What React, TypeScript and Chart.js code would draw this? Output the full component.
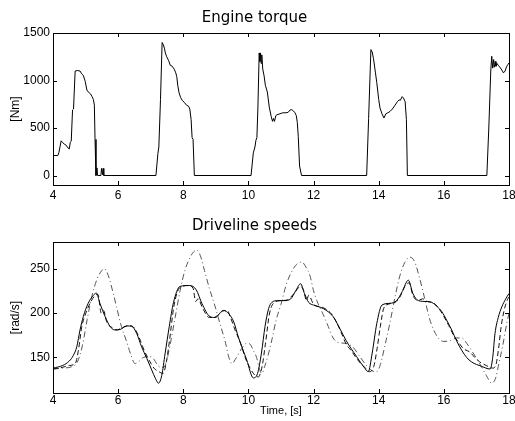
import React, { useEffect, useRef } from "react";
import { Chart, registerables } from "chart.js";

Chart.register(...registerables);

// ---------- data ----------
const X_TICKS = [4, 6, 8, 10, 12, 14, 16, 18];
const TORQUE_TICKS = [0, 500, 1000, 1500];
const SPEED_TICKS = [150, 200, 250];

const torqueT = [
  4.0, 4.15, 4.18, 4.25, 4.3, 4.35, 4.4, 4.46, 4.5, 4.53, 4.56, 4.6, 4.63, 4.68, 4.75, 4.83, 4.88, 4.93, 4.99, 5.04,
  5.08, 5.15, 5.2, 5.24, 5.27, 5.29, 5.32, 5.35, 5.37, 5.47, 5.49, 5.52, 5.54, 5.56, 7.16, 7.22, 7.25, 7.3, 7.35, 7.39,
  7.42, 7.45, 7.49, 7.55, 7.6, 7.66, 7.72, 7.77, 7.8, 7.83, 7.87, 7.92, 7.97, 8.03, 8.1, 8.16, 8.2, 8.24, 8.27, 8.3,
  8.34, 10.08, 10.15, 10.2, 10.23, 10.26, 10.29, 10.33, 10.35, 10.37, 10.39, 10.41, 10.44, 10.48, 10.52, 10.58, 10.64,
  10.7, 10.74, 10.77, 10.8, 10.84, 10.88, 10.97, 11.05, 11.15, 11.22, 11.28, 11.33, 11.38, 11.43, 11.47, 11.5, 11.53,
  11.57, 11.63, 13.63, 13.69, 13.76, 13.8, 13.84, 13.9, 13.94, 14.0, 14.04, 14.1, 14.16, 14.22, 14.28, 14.35, 14.42,
  14.5, 14.58, 14.63, 14.66, 14.72, 14.76, 14.81, 14.85, 14.88, 17.32, 17.38, 17.44, 17.47, 17.5, 17.53, 17.55, 17.58,
  17.6, 17.63, 17.67, 17.72, 17.78, 17.83, 17.88, 17.93, 17.97, 18.0,
];
const torqueV = [
  210, 210, 240, 365, 345, 330, 320, 290, 280, 350, 360, 690, 700, 1100, 1105, 1100, 1070, 1055, 990, 900,
  880, 860, 830, 800, 740, 380, 0, 80, 0, 0, 75, 10, 75, 0, 0, 230, 300, 800, 1400, 1375,
  1340, 1290, 1250, 1210, 1160, 1150, 1120, 1080, 1040, 950, 870, 820, 790, 770, 740, 730, 700, 590, 400, 380,
  0, 0, 238, 300, 370, 400, 700, 1290, 1200, 1290, 1180, 1270, 1120, 1050, 950, 880, 720,
  620, 570, 600, 570, 630, 640, 650, 660, 660, 665, 690, 693, 680, 660, 630, 560, 413,
  100, 0, 0, 600, 1325, 1300, 1230, 1080, 980, 800, 710, 650, 605, 650, 660, 675, 700,
  740, 780, 797, 790, 830, 815, 780, 590, 0, 0, 500, 1100, 1255, 1130, 1220, 1140, 1200,
  1150, 1180, 1160, 1140, 1110, 1080, 1100, 1150, 1170, 1185,
];

const solidT = [
  4.0, 4.3, 4.5, 4.62, 4.73, 4.83, 4.93, 5.08, 5.24, 5.33, 5.44, 5.6, 5.75, 5.9, 6.06, 6.26, 6.42, 6.57, 6.72, 6.88,
  7.03, 7.15, 7.24, 7.34, 7.44, 7.57, 7.7, 7.9, 8.2, 8.4, 8.57, 8.82, 8.98, 9.23, 9.4, 9.55, 9.69, 9.95, 10.15, 10.28,
  10.4, 10.51, 10.62, 10.72, 10.9, 11.1, 11.3, 11.45, 11.6, 11.72, 11.85, 12.0, 12.3, 12.6, 12.8, 13.0, 13.32, 13.55,
  13.68, 13.8, 13.94, 14.1, 14.35, 14.55, 14.72, 14.91, 15.05, 15.22, 15.45, 15.63, 15.8, 15.93, 16.1, 16.24, 16.4,
  16.55, 16.7, 16.85, 17.16, 17.42, 17.5, 17.57, 17.67, 17.78, 17.9, 18.0,
];
const solidV = [
  138, 141, 146, 152, 162, 181, 196, 211, 220, 222.5, 211, 196, 185, 181, 181.5, 185.5, 185, 177, 162, 149,
  136, 126, 121, 130, 154, 185, 212, 230, 231, 226, 211, 196, 195, 203, 199, 190, 173, 147, 127, 132,
  155, 185, 205, 212, 214, 214, 216, 225, 233, 222, 212, 209, 205, 196, 183, 169, 151, 139,
  134, 155, 188, 209, 211, 214, 224, 237, 222, 214, 213, 212, 207, 202, 191, 181, 168,
  158, 150, 145, 140, 137, 150, 177, 195, 207, 216, 222,
];

const dashedT = [
  4.0, 4.3, 4.5, 4.68, 4.78, 4.88, 5.0, 5.15, 5.3, 5.38, 5.48, 5.55, 5.65, 5.8, 5.95, 6.15, 6.35, 6.5, 6.65, 6.8,
  6.95, 7.1, 7.25, 7.38, 7.48, 7.58, 7.7, 7.82, 7.95, 8.15, 8.3, 8.38, 8.45, 8.6, 8.8, 9.0, 9.2, 9.35, 9.45, 9.6,
  9.75, 9.9, 10.05, 10.2, 10.3, 10.42, 10.52, 10.65, 10.8, 11.0, 11.2, 11.4, 11.6, 11.7, 11.78, 11.85, 12.0, 12.3,
  12.55, 12.7, 12.85, 13.0, 13.15, 13.3, 13.45, 13.6, 13.72, 13.85, 13.95, 14.05, 14.15, 14.3, 14.5, 14.65, 14.8,
  14.93, 15.05, 15.2, 15.35, 15.5, 15.7, 15.85, 16.0, 16.15, 16.3, 16.45, 16.6, 16.8, 16.95, 17.1, 17.3, 17.5, 17.6,
  17.68, 17.76, 17.85, 17.95, 18.0,
];
const dashedV = [
  137, 139, 141, 143, 158, 184, 199, 212, 220, 221, 200, 203, 190, 184, 181, 184, 186, 183, 172, 158,
  147, 138, 134, 132, 145, 170, 205, 224, 230, 231, 228, 213, 216, 205, 195, 196, 202, 203, 195, 180,
  167, 150, 138, 130, 128, 140, 165, 200, 212, 214, 215, 222, 230, 225, 214, 220, 210, 206,
  199, 190, 178, 165, 158, 150, 143, 138, 134, 140, 160, 185, 205, 210, 212, 218, 230,
  234, 220, 214, 216, 213, 211, 205, 196, 186, 175, 167, 160, 156, 150, 145, 141, 138, 142,
  160, 185, 203, 215, 218,
];

const dashDotT = [
  4.0, 4.3, 4.6, 4.75, 4.9, 5.05, 5.2, 5.35, 5.5, 5.58, 5.7, 5.85, 5.95, 6.1, 6.26, 6.4, 6.52, 6.65, 6.77, 6.98,
  7.1, 7.18, 7.3, 7.4, 7.5, 7.6, 7.75, 7.9, 8.05, 8.2, 8.32, 8.41, 8.52, 8.65, 8.8, 8.98, 9.15, 9.28, 9.4, 9.49,
  9.6, 9.79, 9.95, 10.05, 10.15, 10.25, 10.33, 10.41, 10.5, 10.6, 10.72, 10.85, 11.0, 11.17, 11.38, 11.52, 11.64,
  11.76, 11.89, 12.0, 12.1, 12.3, 12.45, 12.6, 12.75, 12.95, 13.2, 13.4, 13.6, 13.8, 13.94, 14.05, 14.2, 14.35, 14.5,
  14.65, 14.8, 14.96, 15.1, 15.25, 15.4, 15.55, 15.7, 15.85, 16.0, 16.2, 16.4, 16.55, 16.7, 16.9, 17.1, 17.3, 17.47,
  17.6, 17.67, 17.8, 17.93, 18.0,
];
const dashDotV = [
  137, 138, 140, 145, 163, 193, 220, 238, 248, 250, 242, 222, 207, 185, 168, 152, 143, 146, 150, 151,
  148, 143, 139, 139, 148, 165, 195, 225, 248, 262, 269, 271, 265, 248, 228, 207, 185, 169, 150, 143,
  148, 160, 166, 165, 158, 150, 138, 132, 140, 152, 170, 192, 210, 233, 250, 256, 257.5,
  252, 242, 225, 214, 198, 185, 172, 167, 166, 162, 152, 142, 135, 134, 142, 165, 190, 218,
  242, 257, 263, 258, 240, 218, 195, 180, 171, 168, 169, 172, 172, 166, 155, 143, 130, 121,
  128, 140, 162, 188, 200,
];

// ---------- helpers ----------
const pts = (xs: number[], ys: number[]) => xs.map((x, i) => ({ x, y: ys[i] }));

const TICK_FONT = { family: "'Liberation Sans', Arial, sans-serif", size: 12 };
const TITLE_FONT = { family: "'DejaVu Sans', sans-serif", size: 15, weight: "normal" as const };

const boxTicks = {
  id: "boxTicks",
  afterDraw(chart: any) {
    const { ctx, chartArea: a, scales } = chart;
    const L = 4;
    ctx.save();
    ctx.strokeStyle = "#000";
    ctx.lineWidth = 1;
    ctx.beginPath();
    for (const t of scales.x.ticks) {
      const px = Math.round(scales.x.getPixelForValue(t.value)) + 0.5;
      ctx.moveTo(px, a.bottom);
      ctx.lineTo(px, a.bottom - L);
      ctx.moveTo(px, a.top);
      ctx.lineTo(px, a.top + L);
    }
    for (const t of scales.y.ticks) {
      const py = Math.round(scales.y.getPixelForValue(t.value)) + 0.5;
      ctx.moveTo(a.left, py);
      ctx.lineTo(a.left + L, py);
      ctx.moveTo(a.right, py);
      ctx.lineTo(a.right - L, py);
    }
    ctx.stroke();
    ctx.strokeRect(Math.round(a.left) + 0.5, Math.round(a.top) + 0.5, Math.round(a.right - a.left), Math.round(a.bottom - a.top));
    ctx.restore();
  },
};

const plainLabel = (v: any) => String(v);

function makeX(height: number, tickPad: number, title?: string) {
  return {
    type: "linear" as const,
    min: 4,
    max: 18,
    afterBuildTicks: (s: any) => {
      s.ticks = X_TICKS.map((v) => ({ value: v }));
    },
    afterFit: (s: any) => {
      s.height = height;
      s.paddingLeft = 0;
      s.paddingRight = 0;
    },
    grid: { display: false, drawTicks: false },
    border: { display: false },
    ticks: { font: TICK_FONT, color: "#000", padding: tickPad, maxRotation: 0, autoSkip: false, callback: plainLabel },
    title: title
      ? { display: true, text: title, color: "#000", font: { family: "'Liberation Sans', Arial, sans-serif", size: 11 }, padding: { top: 0, bottom: 3 } }
      : { display: false },
  };
}

function makeY(min: number, max: number, ticks: number[], title: string) {
  return {
    type: "linear" as const,
    min,
    max,
    afterBuildTicks: (s: any) => {
      s.ticks = ticks.map((v) => ({ value: v }));
    },
    afterFit: (s: any) => {
      s.width = 53;
      s.paddingTop = 0;
      s.paddingBottom = 0;
    },
    grid: { display: false, drawTicks: false },
    border: { display: false },
    ticks: { font: TICK_FONT, color: "#000", padding: 3, callback: plainLabel },
    title: { display: true, text: title, color: "#000", font: { family: "'Liberation Sans', Arial, sans-serif", size: 12 }, padding: { top: 8, bottom: 0 } },
  };
}

function ChartCanvas({ config, top, height }: { config: any; top: number; height: number }) {
  const ref = useRef<HTMLCanvasElement | null>(null);
  useEffect(() => {
    if (!ref.current) return;
    const chart = new Chart(ref.current, config);
    return () => chart.destroy();
  }, []);
  return (
    <canvas
      ref={ref}
      width={515}
      height={height}
      style={{ position: "absolute", left: 0, top, width: 515, height }}
    />
  );
}

const torqueConfig = {
  type: "line",
  data: {
    datasets: [
      {
        data: pts(torqueT, torqueV),
        borderColor: "#000",
        borderWidth: 1,
        pointRadius: 0,
        tension: 0,
        fill: false,
      },
    ],
  },
  options: {
    animation: false,
    responsive: false,
    devicePixelRatio: 1,
    layout: { padding: { left: 0, right: 6, top: 0, bottom: 0 } },
    plugins: {
      legend: { display: false },
      tooltip: { enabled: false },
      title: { display: true, text: "Engine torque", color: "#000", font: TITLE_FONT, padding: { top: 9, bottom: 6 } },
    },
    scales: {
      x: makeX(20, 3),
      y: makeY(-100, 1500, TORQUE_TICKS, "[Nm]"),
    },
  },
  plugins: [boxTicks],
};

const speedConfig = {
  type: "line",
  data: {
    datasets: [
      {
        data: pts(solidT, solidV),
        borderColor: "#000",
        borderWidth: 1,
        pointRadius: 0,
        cubicInterpolationMode: "monotone",
        fill: false,
      },
      {
        data: pts(dashedT, dashedV),
        borderColor: "#111",
        borderWidth: 1,
        borderDash: [5, 3],
        pointRadius: 0,
        cubicInterpolationMode: "monotone",
        fill: false,
      },
      {
        data: pts(dashDotT, dashDotV),
        borderColor: "#555",
        borderWidth: 1,
        borderDash: [6, 3, 1, 3],
        pointRadius: 0,
        cubicInterpolationMode: "monotone",
        fill: false,
      },
    ],
  },
  options: {
    animation: false,
    responsive: false,
    devicePixelRatio: 1,
    layout: { padding: { left: 0, right: 6, top: 0, bottom: 0 } },
    plugins: {
      legend: { display: false },
      tooltip: { enabled: false },
      title: { display: true, text: "Driveline speeds", color: "#000", font: TITLE_FONT, padding: { top: 12, bottom: 7 } },
    },
    scales: {
      x: makeX(28, 0, "Time, [s]"),
      y: makeY(110, 280, SPEED_TICKS, "[rad/s]"),
    },
  },
  plugins: [boxTicks],
};

export default function App() {
  return (
    <div style={{ position: "absolute", left: 0, top: 0, width: 515, height: 421, background: "#fff", overflow: "hidden" }}>
      <ChartCanvas config={torqueConfig} top={0} height={205} />
      <ChartCanvas config={speedConfig} top={205} height={216} />
    </div>
  );
}
